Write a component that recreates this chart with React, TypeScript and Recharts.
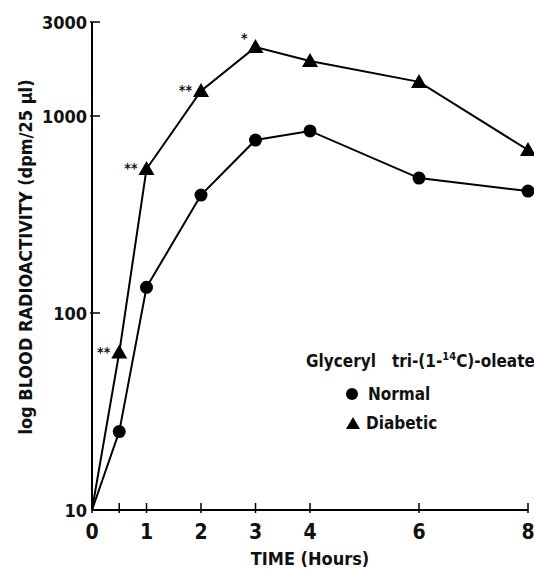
import { LineChart, Line, XAxis, YAxis, LabelList } from 'recharts';

const hours = [0, 0.5, 1, 2, 3, 4, 6, 8];
const normal = [10, 25, 135, 397, 755, 840, 484, 416];
const diabetic = [10, 63, 538, 1340, 2240, 1900, 1490, 672];
const marks = ['', '**', '**', '**', '*', '', '', ''];
const xTicks = [0, 0.5, 1, 2, 3, 4, 6, 8];
const yTicks = [10, 100, 1000, 3000];

const data = hours.map((h, i) => ({
  h,
  normal: normal[i],
  diabetic: diabetic[i],
  mark: marks[i],
}));

const FONT = '"DejaVu Sans Condensed", "Liberation Sans Narrow", sans-serif';

const Circle = (p: any) => {
  if (p.payload.h === 0) return null;
  return <circle cx={p.cx} cy={p.cy} r={6.5} fill="#000" />;
};

const Tri = (p: any) => {
  if (p.payload.h === 0) return null;
  const s = 8;
  return (
    <polygon
      points={`${p.cx},${p.cy - s} ${p.cx - s},${p.cy + s * 0.75} ${p.cx + s},${p.cy + s * 0.75}`}
      fill="#000"
    />
  );
};

const XTick = (p: any) => {
  const v = p.payload.value;
  return (
    <g>
      <line x1={p.x} x2={p.x} y1={p.y - 15} y2={p.y - 5} stroke="#000" strokeWidth={1.5} />
      {v !== 0.5 && (
        <text x={p.x} y={p.y + 21} textAnchor="middle" fontFamily={FONT} fontWeight="bold" fontSize={21} fill="#111">
          {v}
        </text>
      )}
    </g>
  );
};

const YTick = (p: any) => {
  const v = p.payload.value;
  return (
    <g>
      {v !== 10 && <line x1={p.x + 6} x2={p.x + 16} y1={p.y} y2={p.y} stroke="#000" strokeWidth={1.5} />}
      <text x={p.x + 3} y={p.y + 7} textAnchor="end" fontFamily={FONT} fontWeight="bold" fontSize={18} fill="#111">
        {v}
      </text>
    </g>
  );
};

const Mark = (p: any) => {
  if (!p.value) return null;
  const star = p.value === '*';
  return (
    <text
      x={p.x - (star ? 8 : 9)}
      y={p.y - (star ? 4 : -4)}
      textAnchor="end"
      fontFamily={FONT}
      fontWeight="bold"
      fontSize={14}
      fill="#111"
    >
      {p.value}
    </text>
  );
};

const YLabel = (p: any) => {
  const vb = p.viewBox;
  const cx = vb.x + 25;
  const cy = vb.y + vb.height / 2 - 9;
  return (
    <text
      x={cx}
      y={cy}
      transform={`rotate(-90, ${cx}, ${cy})`}
      textAnchor="middle"
      dominantBaseline="central"
      fontFamily={FONT}
      fontWeight="bold"
      fontSize={18}
      fill="#111"
    >
      log BLOOD RADIOACTIVITY (dpm/25 µl)
    </text>
  );
};

const LegendBox = () => (
  <div
    style={{
      position: 'absolute',
      left: 306,
      top: 341,
      whiteSpace: 'nowrap',
      fontFamily: FONT,
      fontWeight: 'bold',
      color: '#111',
      fontSize: 17,
      lineHeight: '31px',
    }}
  >
    <div>
      Glyceryl&nbsp;&nbsp; tri-(1-<sup style={{ fontSize: 11 }}>14</sup>C)-oleate
    </div>
    <div style={{ paddingLeft: 40, lineHeight: '34px' }}>
      <span style={{ display: 'inline-block', width: 12, height: 12, borderRadius: 6, background: '#000', marginRight: 10 }} />
      Normal
    </div>
    <div style={{ paddingLeft: 40, lineHeight: '24px' }}>
      <svg width={14} height={12} style={{ marginRight: 6 }}>
        <polygon points="7,0 0,12 14,12" fill="#000" />
      </svg>
      Diabetic
    </div>
  </div>
);

export default function App() {
  return (
    <div style={{ position: 'absolute', left: 0, top: 0, width: 534, height: 569, background: '#fff' }}>
      <LineChart width={534} height={569} data={data} margin={{ top: 22, right: 6, left: 0, bottom: 0 }}>
        <XAxis
          dataKey="h"
          type="number"
          domain={[0, 8]}
          ticks={xTicks}
          tick={<XTick />}
          tickLine={false}
          height={59}
          axisLine={{ stroke: '#000', strokeWidth: 2 }}
          label={{
            value: 'TIME (Hours)',
            position: 'insideBottom',
            offset: 4,
            style: { fontFamily: FONT, fontWeight: 'bold', fontSize: 18, fill: '#111' },
          }}
        />
        <YAxis
          type="number"
          scale="log"
          domain={[10, 3000]}
          ticks={yTicks}
          tick={<YTick />}
          tickLine={false}
          width={92}
          allowDataOverflow
          axisLine={{ stroke: '#000', strokeWidth: 2 }}
          label={<YLabel />}
        />
        <Line dataKey="normal" stroke="#000" strokeWidth={2} dot={<Circle />} isAnimationActive={false} />
        <Line dataKey="diabetic" stroke="#000" strokeWidth={2} dot={<Tri />} isAnimationActive={false}>
          <LabelList dataKey="mark" content={<Mark />} />
        </Line>
      </LineChart>
      <LegendBox />
    </div>
  );
}
